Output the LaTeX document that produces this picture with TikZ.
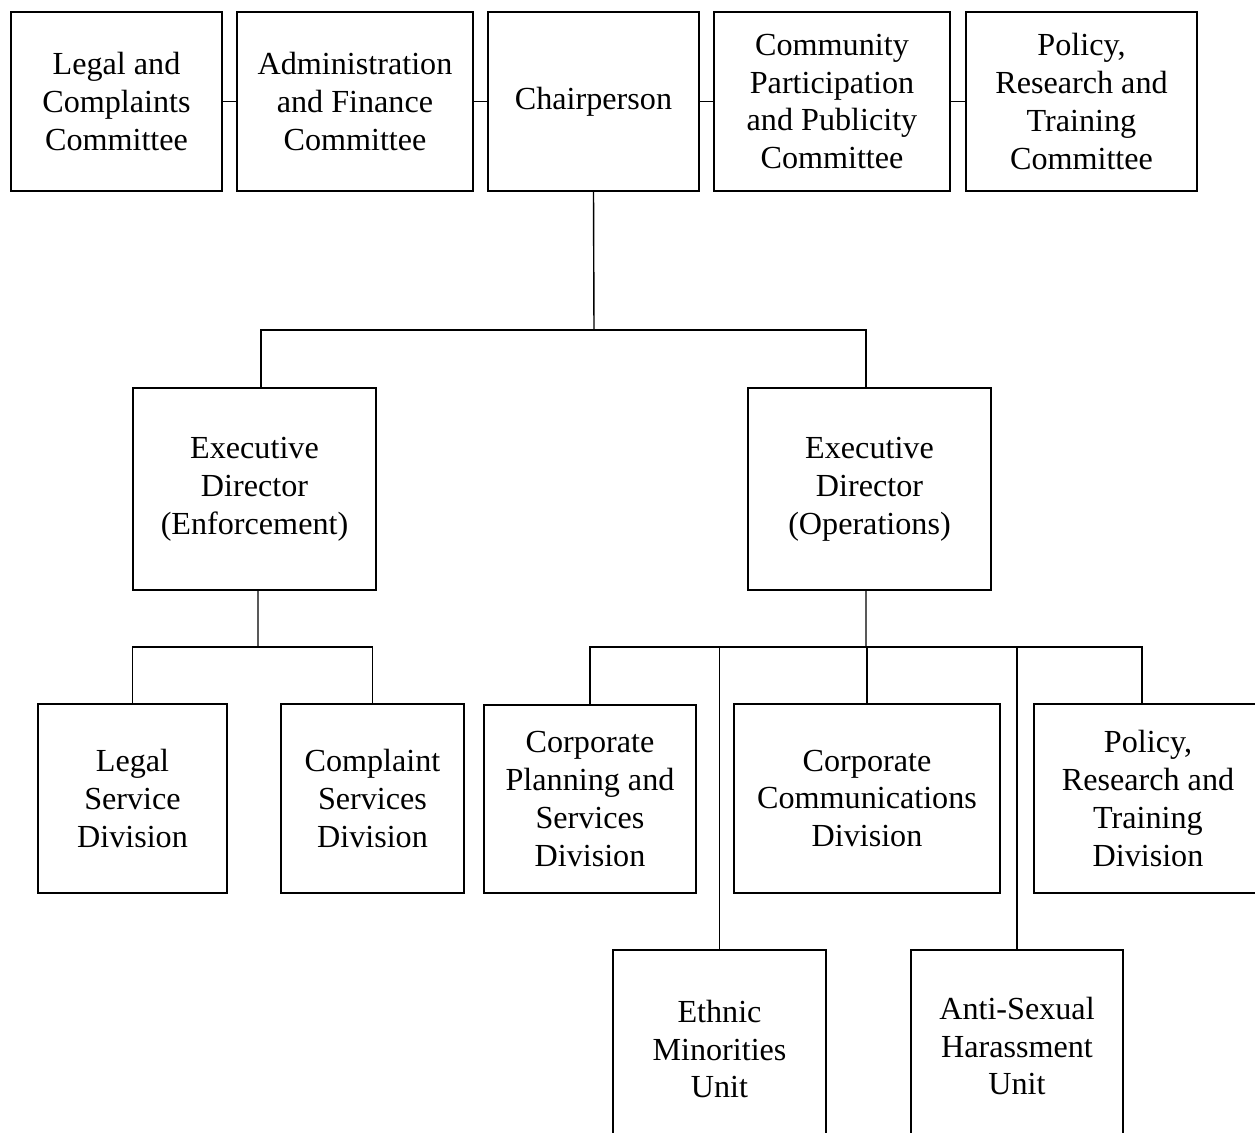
\documentclass[tikz,border=0pt]{standalone}
\usepackage{fontspec}
\setmainfont{Liberation Serif}
\usepackage{tikz}
\tikzset{
	unit/.style={draw, rectangle, line width=0.8pt, align=center, inner sep=2pt, outer sep=0pt,
		font=\fontsize{18.3}{21.6}\selectfont},
	link/.style={line width=0.8pt}
}

\begin{document}
\begin{tikzpicture}[x=0.02cm, y=-0.02cm]
	\clip (0,0) rectangle (1255,1133);
	% committees and chairperson
	\node[unit, minimum width=4.22cm, minimum height=3.58cm] (legalcom) at (116.5,101.5) {Legal and\\Complaints\\Committee};
	\node[unit, minimum width=4.72cm, minimum height=3.58cm] (admincom) at (355,101.5) {Administration\\and Finance\\Committee};
	\node[unit, minimum width=4.22cm, minimum height=3.58cm] (chair) at (593.5,101.5) {Chairperson};
	\node[unit, minimum width=4.72cm, minimum height=3.58cm] (commcom) at (832,101.5) {Community\\Participation\\and Publicity\\Committee};
	\node[unit, minimum width=4.62cm, minimum height=3.58cm] (policycom) at (1081.5,101.5) {Policy,\\Research and\\Training\\Committee};
	% executive directors
	\node[unit, minimum width=4.86cm, minimum height=4.04cm] (edenf) at (254.5,489) {Executive\\Director\\(Enforcement)};
	\node[unit, minimum width=4.86cm, minimum height=4.04cm] (edops) at (869.5,489) {Executive\\Director\\(Operations)};
	% divisions and units
	\node[unit, minimum width=3.78cm, minimum height=3.78cm] (legaldiv) at (132.5,798.5) {Legal\\Service\\Division};
	\node[unit, minimum width=3.66cm, minimum height=3.78cm] (compdiv) at (372.5,798.5) {Complaint\\Services\\Division};
	\node[unit, minimum width=4.24cm, minimum height=3.76cm] (plandiv) at (590,799) {Corporate\\Planning and\\Services\\Division};
	\node[unit, minimum width=5.32cm, minimum height=3.78cm] (corpdiv) at (867,798.5) {Corporate\\Communications\\Division};
	\node[unit, minimum width=4.56cm, minimum height=3.78cm] (policydiv) at (1148,798.5) {Policy,\\Research and\\Training\\Division};
	\node[unit, minimum width=4.26cm, minimum height=3.96cm] (ethnic) at (719.5,1049) {Ethnic\\Minorities\\Unit};
	\node[unit, minimum width=4.24cm, minimum height=3.84cm] (antisex) at (1017,1046) {Anti-Sexual\\Harassment\\Unit};
	% connectors
	\draw[link] (legalcom) -- (admincom);
	\draw[link] (admincom) -- (chair);
	\draw[link] (chair) -- (commcom);
	\draw[link] (commcom) -- (policycom);
	\coordinate (bustop) at (594,330);
	\draw[link] (chair.south) -- (bustop);
	\draw[link] ([xshift=0.13cm]edenf.north) |- (bustop) -| ([xshift=-0.07cm]edops.north);
	\coordinate (busenf) at (258,647);
	\draw[link] ([xshift=0.07cm]edenf.south) -- (busenf);
	\draw[link] (legaldiv.north) |- (busenf) -| (compdiv.north);
	\coordinate (busops) at (866,647);
	\draw[link] ([xshift=-0.07cm]edops.south) -- (busops);
	\draw[link] (plandiv.north) |- (busops) -| ([xshift=-0.12cm]policydiv.north);
	\draw[link] (ethnic.north) -- (ethnic.north |- busops);
	\draw[link] (corpdiv.north) -- (corpdiv.north |- busops);
	\draw[link] (antisex.north) -- (antisex.north |- busops);
\end{tikzpicture}
\end{document}
